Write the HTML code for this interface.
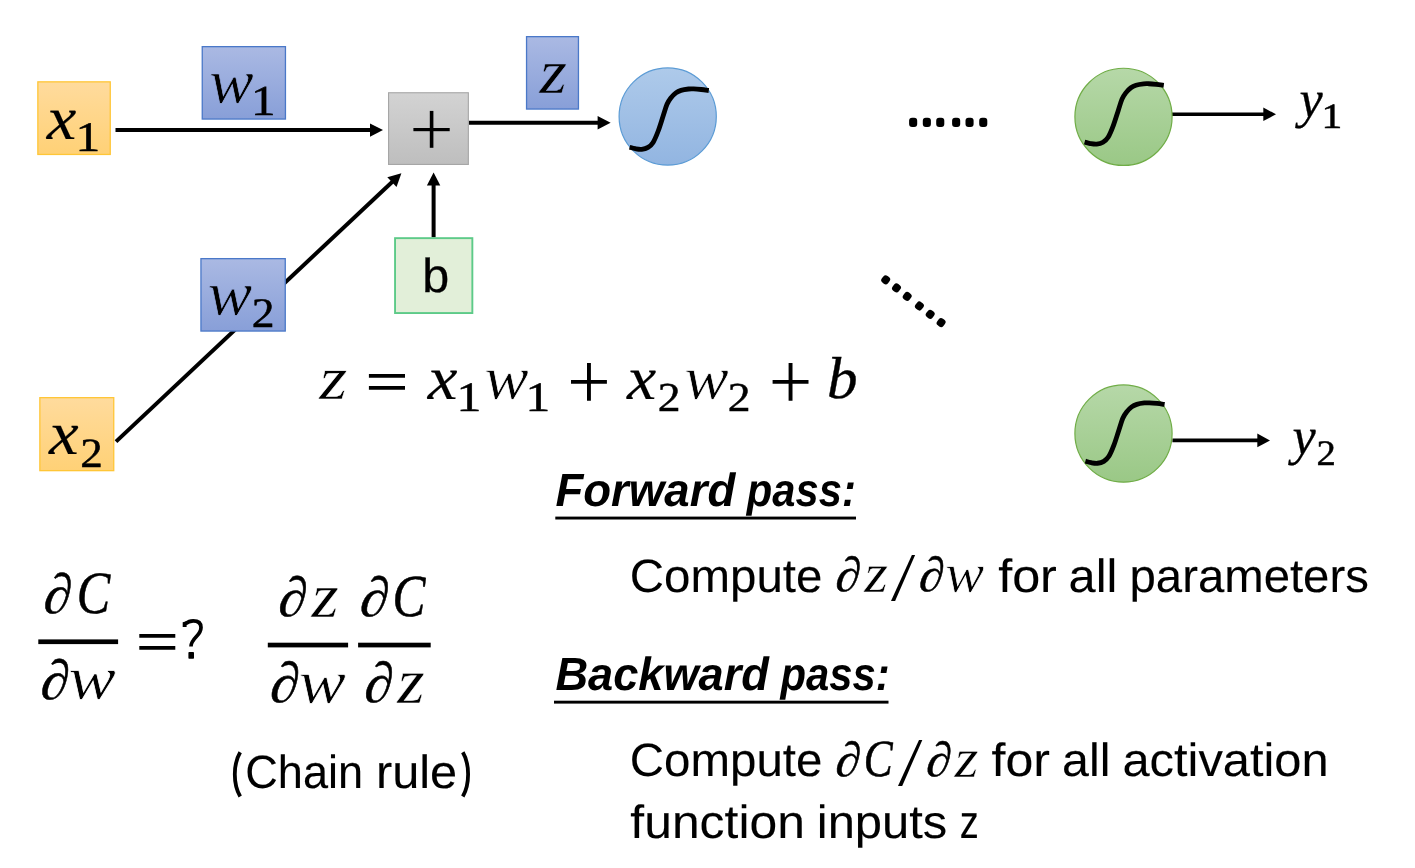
<!DOCTYPE html>
<html><head><meta charset="utf-8"><title>Backpropagation</title>
<style>
html,body{margin:0;padding:0;background:#fff;overflow:hidden}
svg{display:block;will-change:transform}
text{font-kerning:none;text-rendering:geometricPrecision}
</style></head><body>
<svg width="1415" height="868" viewBox="0 0 1415 868">
<rect width="1415" height="868" fill="#fff"/>
<defs>
<linearGradient id="gY" x1="0" y1="0" x2="0" y2="1"><stop offset="0" stop-color="#FFDB9D"/><stop offset="1" stop-color="#FFD176"/></linearGradient>
<linearGradient id="gB" x1="0" y1="0" x2="0" y2="1"><stop offset="0" stop-color="#AAB9E3"/><stop offset="1" stop-color="#889FD8"/></linearGradient>
<linearGradient id="gG" x1="0" y1="0" x2="0" y2="1"><stop offset="0" stop-color="#D3D3D3"/><stop offset="1" stop-color="#BEBEBE"/></linearGradient>
<linearGradient id="gC" x1="0" y1="0" x2="0" y2="1"><stop offset="0" stop-color="#AECAEA"/><stop offset="1" stop-color="#92B5E1"/></linearGradient>
<linearGradient id="gN" x1="0" y1="0" x2="0" y2="1"><stop offset="0" stop-color="#B6D8A8"/><stop offset="1" stop-color="#9AC886"/></linearGradient>
</defs>
<line x1="115.50" y1="130.10" x2="371.00" y2="130.10" stroke="#000" stroke-width="4.0"/>
<polygon points="383.00,130.10 370.00,136.80 370.00,123.40" fill="#000"/>
<line x1="468.90" y1="122.80" x2="598.60" y2="122.80" stroke="#000" stroke-width="4.0"/>
<polygon points="610.60,122.80 597.60,129.50 597.60,116.10" fill="#000"/>
<line x1="116.00" y1="441.60" x2="392.66" y2="181.42" stroke="#000" stroke-width="4.0"/>
<polygon points="401.40,173.20 396.52,186.99 387.34,177.23" fill="#000"/>
<line x1="433.60" y1="237.30" x2="433.60" y2="184.60" stroke="#000" stroke-width="4.0"/>
<polygon points="433.60,172.60 440.30,185.60 426.90,185.60" fill="#000"/>
<line x1="1172.00" y1="114.30" x2="1264.30" y2="114.30" stroke="#000" stroke-width="3.6"/>
<polygon points="1276.00,114.30 1263.30,121.10 1263.30,107.50" fill="#000"/>
<line x1="1172.40" y1="440.40" x2="1258.30" y2="440.40" stroke="#000" stroke-width="3.6"/>
<polygon points="1270.00,440.40 1257.30,447.20 1257.30,433.60" fill="#000"/>
<rect x="37.85" y="81.85" width="72.40" height="72.60" fill="url(#gY)" stroke="#FFC637" stroke-width="1.3"/>
<rect x="39.85" y="397.65" width="73.90" height="73.00" fill="url(#gY)" stroke="#FFC637" stroke-width="1.3"/>
<rect x="202.25" y="46.65" width="83.20" height="72.40" fill="url(#gB)" stroke="#4A78C8" stroke-width="1.3"/>
<rect x="200.95" y="258.65" width="84.30" height="72.40" fill="url(#gB)" stroke="#4A78C8" stroke-width="1.3"/>
<rect x="526.55" y="36.65" width="51.90" height="72.40" fill="url(#gB)" stroke="#4A78C8" stroke-width="1.3"/>
<rect x="388.55" y="92.75" width="79.80" height="71.70" fill="url(#gG)" stroke="#A6A6A6" stroke-width="1.1"/>
<rect x="395.05" y="238.15" width="77.30" height="74.90" fill="#E2EFD9" stroke="#5DCA88" stroke-width="1.9"/>
<rect x="413.4" y="128.0" width="36.3" height="3.2" fill="#000"/>
<rect x="429.8" y="110.9" width="3.6" height="36.9" fill="#000"/>
<circle cx="667.7" cy="116.5" r="48.6" fill="url(#gC)" stroke="#5B9BD5" stroke-width="1.2"/>
<path d="M629.60,147.20 C630.55,147.45 633.28,148.35 635.30,148.70 C637.32,149.05 639.58,149.52 641.70,149.30 C643.82,149.08 646.10,148.55 648.00,147.40 C649.90,146.25 651.40,145.13 653.10,142.40 C654.80,139.67 656.52,135.43 658.20,131.00 C659.88,126.57 661.73,120.25 663.20,115.80 C664.67,111.35 665.73,107.27 667.00,104.30 C668.27,101.33 669.32,99.90 670.80,98.00 C672.28,96.10 674.20,94.17 675.90,92.90 C677.60,91.63 678.88,91.05 681.00,90.40 C683.12,89.75 686.50,89.25 688.60,89.00 C690.70,88.75 691.50,88.82 693.60,88.90 C695.70,88.98 698.67,89.23 701.20,89.50 C703.73,89.77 707.53,90.33 708.80,90.50" fill="none" stroke="#000" stroke-width="4.8"/>
<circle cx="1123.5" cy="116.85" r="48.6" fill="url(#gN)" stroke="#70AD47" stroke-width="1.2"/>
<path d="M1084.60,142.05 C1085.55,142.30 1088.28,143.20 1090.30,143.55 C1092.32,143.90 1094.58,144.37 1096.70,144.15 C1098.82,143.93 1101.10,143.40 1103.00,142.25 C1104.90,141.10 1106.40,139.98 1108.10,137.25 C1109.80,134.52 1111.52,130.28 1113.20,125.85 C1114.88,121.42 1116.73,115.10 1118.20,110.65 C1119.67,106.20 1120.73,102.12 1122.00,99.15 C1123.27,96.18 1124.32,94.75 1125.80,92.85 C1127.28,90.95 1129.20,89.02 1130.90,87.75 C1132.60,86.48 1133.88,85.90 1136.00,85.25 C1138.12,84.60 1141.50,84.10 1143.60,83.85 C1145.70,83.60 1146.50,83.67 1148.60,83.75 C1150.70,83.83 1153.67,84.08 1156.20,84.35 C1158.73,84.62 1162.53,85.18 1163.80,85.35" fill="none" stroke="#000" stroke-width="4.8"/>
<circle cx="1123.5" cy="433.55" r="48.6" fill="url(#gN)" stroke="#70AD47" stroke-width="1.2"/>
<path d="M1085.40,461.15 C1086.35,461.40 1089.08,462.30 1091.10,462.65 C1093.12,463.00 1095.38,463.47 1097.50,463.25 C1099.62,463.03 1101.90,462.50 1103.80,461.35 C1105.70,460.20 1107.20,459.08 1108.90,456.35 C1110.60,453.62 1112.32,449.38 1114.00,444.95 C1115.68,440.52 1117.53,434.20 1119.00,429.75 C1120.47,425.30 1121.53,421.22 1122.80,418.25 C1124.07,415.28 1125.12,413.85 1126.60,411.95 C1128.08,410.05 1130.00,408.12 1131.70,406.85 C1133.40,405.58 1134.68,405.00 1136.80,404.35 C1138.92,403.70 1142.30,403.20 1144.40,402.95 C1146.50,402.70 1147.30,402.77 1149.40,402.85 C1151.50,402.93 1154.47,403.18 1157.00,403.45 C1159.53,403.72 1163.33,404.28 1164.60,404.45" fill="none" stroke="#000" stroke-width="4.8"/>
<rect x="909.1" y="117.8" width="8.1" height="9.1" rx="3" fill="#000"/>
<rect x="922.8" y="117.8" width="8.1" height="9.1" rx="3" fill="#000"/>
<rect x="936.2" y="117.8" width="8.1" height="9.1" rx="3" fill="#000"/>
<rect x="952.1" y="117.8" width="8.1" height="9.1" rx="3" fill="#000"/>
<rect x="965.5" y="117.8" width="8.1" height="9.1" rx="3" fill="#000"/>
<rect x="979.2" y="117.8" width="8.1" height="9.1" rx="3" fill="#000"/>
<rect x="881.8" y="275.6" width="7.8" height="8.4" rx="3" fill="#000" transform="rotate(38 885.7 279.8)"/>
<rect x="892.6" y="283.7" width="7.8" height="8.4" rx="3" fill="#000" transform="rotate(38 896.5 287.9)"/>
<rect x="903.3" y="292.2" width="7.8" height="8.4" rx="3" fill="#000" transform="rotate(38 907.2 296.4)"/>
<rect x="915.5" y="301.8" width="7.8" height="8.4" rx="3" fill="#000" transform="rotate(38 919.4 306.0)"/>
<rect x="926.3" y="310.1" width="7.8" height="8.4" rx="3" fill="#000" transform="rotate(38 930.2 314.3)"/>
<rect x="937.2" y="318.4" width="7.8" height="8.4" rx="3" fill="#000" transform="rotate(38 941.1 322.6)"/>
<text transform="matrix(0.66521 0 -0.00000 0.61331 46.79 138.93)" font-family='"Liberation Serif", serif' font-style="italic" font-weight="normal" font-size="100" stroke="#000" stroke-width="0.235">x</text>
<text transform="matrix(0.49425 0 -0.00000 0.41960 75.46 150.80)" font-family='"Liberation Serif", serif' font-style="normal" font-weight="normal" font-size="100" stroke="#000" stroke-width="1.318">1</text>
<text transform="matrix(0.66744 0 -0.00000 0.61113 48.99 454.32)" font-family='"Liberation Serif", serif' font-style="italic" font-weight="normal" font-size="100" stroke="#000" stroke-width="0.235">x</text>
<text transform="matrix(0.45151 0 -0.00000 0.41685 80.17 466.65)" font-family='"Liberation Serif", serif' font-style="normal" font-weight="normal" font-size="100" stroke="#000" stroke-width="1.153">2</text>
<text transform="matrix(0.66536 0 -0.00000 0.63147 209.26 102.93)" font-family='"Liberation Serif", serif' font-style="italic" font-weight="normal" font-size="100" stroke="#96AADD" stroke-width="1.080">w</text>
<text transform="matrix(0.49141 0 -0.00000 0.42566 250.98 114.90)" font-family='"Liberation Serif", serif' font-style="normal" font-weight="normal" font-size="100" stroke="#000" stroke-width="1.312">1</text>
<text transform="matrix(0.66536 0 -0.00000 0.63147 207.76 314.93)" font-family='"Liberation Serif", serif' font-style="italic" font-weight="normal" font-size="100" stroke="#96AADD" stroke-width="1.080">w</text>
<text transform="matrix(0.45650 0 -0.00000 0.42138 251.84 326.95)" font-family='"Liberation Serif", serif' font-style="normal" font-weight="normal" font-size="100" stroke="#000" stroke-width="1.140">2</text>
<text transform="matrix(0.70763 0 -0.00000 0.62965 539.54 93.15)" font-family='"Liberation Serif", serif' font-style="italic" font-weight="normal" font-size="100" stroke="#96AADD" stroke-width="0.749">z</text>
<text transform="matrix(0.52289 0 -0.00000 0.53052 1299.62 117.30)" font-family='"Liberation Serif", serif' font-style="italic" font-weight="normal" font-size="100" stroke="#000" stroke-width="0.570">y</text>
<text transform="matrix(0.41471 0 -0.00000 0.35446 1321.56 127.50)" font-family='"Liberation Serif", serif' font-style="normal" font-weight="normal" font-size="100" stroke="#000" stroke-width="1.565">1</text>
<text transform="matrix(0.52289 0 -0.00000 0.53052 1292.52 454.30)" font-family='"Liberation Serif", serif' font-style="italic" font-weight="normal" font-size="100" stroke="#000" stroke-width="0.570">y</text>
<text transform="matrix(0.38665 0 -0.00000 0.35795 1316.55 464.85)" font-family='"Liberation Serif", serif' font-style="normal" font-weight="normal" font-size="100" stroke="#000" stroke-width="1.344">2</text>
<text transform="matrix(0.72054 0 -0.00000 0.61658 319.26 399.05)" font-family='"Liberation Serif", serif' font-style="italic" font-weight="normal" font-size="100" stroke="#fff" stroke-width="0.750">z</text>
<path d="M368.9,374h36.1v3.8h-36.1zM368.9,386.1h36.1v3.7h-36.1z"/>
<text transform="matrix(0.66967 0 -0.00000 0.61985 427.79 399.12)" font-family='"Liberation Serif", serif' font-style="italic" font-weight="normal" font-size="100" stroke="#000" stroke-width="0.233">x</text>
<text transform="matrix(0.49709 0 -0.00000 0.41505 456.53 410.70)" font-family='"Liberation Serif", serif' font-style="normal" font-weight="normal" font-size="100" stroke="#000" stroke-width="1.321">1</text>
<text transform="matrix(0.66379 0 -0.00000 0.62507 484.16 398.94)" font-family='"Liberation Serif", serif' font-style="italic" font-weight="normal" font-size="100" stroke="#fff" stroke-width="1.087">w</text>
<text transform="matrix(0.49425 0 -0.00000 0.41505 525.56 410.70)" font-family='"Liberation Serif", serif' font-style="normal" font-weight="normal" font-size="100" stroke="#000" stroke-width="1.325">1</text>
<path d="M571,380.1h35.9v3.7h-35.9zM587,363.1h3.9v37.7h-3.9z"/>
<text transform="matrix(0.65852 0 -0.00000 0.61985 626.98 399.12)" font-family='"Liberation Serif", serif' font-style="italic" font-weight="normal" font-size="100" stroke="#000" stroke-width="0.235">x</text>
<text transform="matrix(0.45650 0 -0.00000 0.41081 657.64 410.55)" font-family='"Liberation Serif", serif' font-style="normal" font-weight="normal" font-size="100" stroke="#000" stroke-width="1.155">2</text>
<text transform="matrix(0.66536 0 -0.00000 0.62507 684.16 398.94)" font-family='"Liberation Serif", serif' font-style="italic" font-weight="normal" font-size="100" stroke="#fff" stroke-width="1.085">w</text>
<text transform="matrix(0.45650 0 -0.00000 0.41081 727.74 410.55)" font-family='"Liberation Serif", serif' font-style="normal" font-weight="normal" font-size="100" stroke="#000" stroke-width="1.155">2</text>
<path d="M772.6,380.1h35.9v3.7h-35.9zM788.6,363.1h3.9v37.7h-3.9z"/>
<text transform="matrix(0.61024 0 -0.00000 0.59123 826.94 398.12)" font-family='"Liberation Serif", serif' font-style="italic" font-weight="normal" font-size="100" stroke="#000" stroke-width="0.666">b</text>
<text transform="matrix(0.54533 0 -0.06696 0.56238 42.62 612.51)" font-family='"Liberation Serif", serif' font-style="normal" font-weight="normal" font-size="100" stroke="#000" stroke-width="0.903">∂</text>
<text transform="matrix(0.50112 0 -0.00000 0.60174 76.66 613.09)" font-family='"Liberation Serif", serif' font-style="italic" font-weight="normal" font-size="100" stroke="#000" stroke-width="0.911">C</text>
<rect x="38.3" y="639.4" width="79.8" height="4.7" fill="#000"/>
<text transform="matrix(0.55363 0 -0.06798 0.55830 39.58 698.91)" font-family='"Liberation Serif", serif' font-style="normal" font-weight="normal" font-size="100" stroke="#000" stroke-width="0.899">∂</text>
<text transform="matrix(0.70941 0 -0.00000 0.61653 68.55 699.35)" font-family='"Liberation Serif", serif' font-style="italic" font-weight="normal" font-size="100" stroke="#fff" stroke-width="1.058">w</text>
<path d="M139.3,634h36v3.8h-36zM139.3,646.1h36v3.6h-36z"/>
<path d="M185.3,623.8C188,621.6 190.5,620.8 193.2,620.8C198.3,620.8 201.0,623.3 201.0,627.4C201.0,631.5 198.6,634.3 196.2,636.8C193.3,639.8 191.0,642.2 191.0,646.6" fill="none" stroke="#000" stroke-width="3.7"/><path d="M182.7,622.3L186.6,621.2L186.6,627.0L182.7,627.0Z"/><rect x="188.4" y="651.9" width="5.6" height="6.8" rx="0.8"/>
<text transform="matrix(0.55570 0 -0.06823 0.55694 277.17 615.82)" font-family='"Liberation Serif", serif' font-style="normal" font-weight="normal" font-size="100" stroke="#000" stroke-width="0.899">∂</text>
<text transform="matrix(0.70247 0 -0.00000 0.63183 311.54 617.05)" font-family='"Liberation Serif", serif' font-style="italic" font-weight="normal" font-size="100" stroke="#fff" stroke-width="0.751">z</text>
<rect x="267.8" y="642.7" width="80.3" height="4.7" fill="#000"/>
<text transform="matrix(0.56400 0 -0.06925 0.56919 269.04 702.20)" font-family='"Liberation Serif", serif' font-style="normal" font-weight="normal" font-size="100" stroke="#000" stroke-width="0.882">∂</text>
<text transform="matrix(0.70941 0 -0.00000 0.62507 298.55 702.54)" font-family='"Liberation Serif", serif' font-style="italic" font-weight="normal" font-size="100" stroke="#fff" stroke-width="1.051">w</text>
<text transform="matrix(0.56400 0 -0.06925 0.55694 358.84 615.82)" font-family='"Liberation Serif", serif' font-style="normal" font-weight="normal" font-size="100" stroke="#000" stroke-width="0.892">∂</text>
<text transform="matrix(0.49307 0 -0.00000 0.59578 392.61 616.40)" font-family='"Liberation Serif", serif' font-style="italic" font-weight="normal" font-size="100" stroke="#000" stroke-width="0.923">C</text>
<rect x="358.1" y="642.7" width="72.6" height="4.7" fill="#000"/>
<text transform="matrix(0.55570 0 -0.06823 0.56919 363.27 702.20)" font-family='"Liberation Serif", serif' font-style="normal" font-weight="normal" font-size="100" stroke="#000" stroke-width="0.889">∂</text>
<text transform="matrix(0.71021 0 -0.00000 0.64708 397.35 703.25)" font-family='"Liberation Serif", serif' font-style="italic" font-weight="normal" font-size="100" stroke="#fff" stroke-width="0.738">z</text>
<text transform="matrix(0.48728 0 -0.05983 0.48477 834.56 591.01)" font-family='"Liberation Serif", serif' font-style="normal" font-weight="normal" font-size="100" stroke="#000" stroke-width="1.029">∂</text>
<text transform="matrix(0.61208 0 -0.00000 0.56211 864.14 592.15)" font-family='"Liberation Serif", serif' font-style="italic" font-weight="normal" font-size="100" stroke="#fff" stroke-width="0.852">z</text>
<path d="M911.9,554.9H915.1L895.1,600.9H891.0Z"/>
<text transform="matrix(0.48728 0 -0.05983 0.48477 918.06 591.01)" font-family='"Liberation Serif", serif' font-style="normal" font-weight="normal" font-size="100" stroke="#000" stroke-width="1.029">∂</text>
<text transform="matrix(0.58357 0 -0.00000 0.55467 945.15 591.71)" font-family='"Liberation Serif", serif' font-style="italic" font-weight="normal" font-size="100" stroke="#fff" stroke-width="1.230">w</text>
<text transform="matrix(0.48728 0 -0.05983 0.48477 834.56 776.01)" font-family='"Liberation Serif", serif' font-style="normal" font-weight="normal" font-size="100" stroke="#000" stroke-width="1.029">∂</text>
<text transform="matrix(0.43345 0 -0.00000 0.52131 863.64 776.17)" font-family='"Liberation Serif", serif' font-style="italic" font-weight="normal" font-size="100" stroke="#000" stroke-width="1.052">C</text>
<path d="M919.0,739.9H922.3L902.2,785.9H898.0Z"/>
<text transform="matrix(0.48728 0 -0.05983 0.48477 925.26 776.01)" font-family='"Liberation Serif", serif' font-style="normal" font-weight="normal" font-size="100" stroke="#000" stroke-width="1.029">∂</text>
<text transform="matrix(0.61982 0 -0.00000 0.56211 954.55 777.15)" font-family='"Liberation Serif", serif' font-style="italic" font-weight="normal" font-size="100" stroke="#fff" stroke-width="0.847">z</text>
<text transform="matrix(0.48476 0 -0.00000 0.47660 422.23 292.38)" font-family='"Liberation Sans", sans-serif' font-style="normal" font-weight="normal" font-size="100" stroke="#000" stroke-width="0.624">b</text>
<text transform="matrix(0.45584 0 -0.00000 0.46512 555.40 505.80)" font-family='"Liberation Sans", sans-serif' font-style="italic" font-weight="bold" font-size="100" xml:space="preserve">Forward</text>
<text transform="matrix(0.41726 0 -0.00000 0.46512 746.82 505.80)" font-family='"Liberation Sans", sans-serif' font-style="italic" font-weight="bold" font-size="100" xml:space="preserve">pass:</text>
<rect x="555.3" y="516.6" width="300.7" height="2.9" fill="#000"/>
<text transform="matrix(0.45172 0 -0.00000 0.46512 555.41 690.10)" font-family='"Liberation Sans", sans-serif' font-style="italic" font-weight="bold" font-size="100" xml:space="preserve">Backward</text>
<text transform="matrix(0.41843 0 -0.00000 0.46512 780.42 690.10)" font-family='"Liberation Sans", sans-serif' font-style="italic" font-weight="bold" font-size="100" xml:space="preserve">pass:</text>
<rect x="554.0" y="700.7" width="334.5" height="2.9" fill="#000"/>
<text transform="matrix(0.47471 0 -0.00000 0.46658 629.84 591.85)" font-family='"Liberation Sans", sans-serif' font-style="normal" font-weight="normal" font-size="100" xml:space="preserve" stroke="#000" stroke-width="0.212">Compute</text>
<text transform="matrix(0.50342 0 -0.00000 0.46658 998.14 591.95)" font-family='"Liberation Sans", sans-serif' font-style="normal" font-weight="normal" font-size="100" xml:space="preserve" stroke="#000" stroke-width="0.206">for</text>
<text transform="matrix(0.48703 0 -0.00000 0.46658 1068.58 591.95)" font-family='"Liberation Sans", sans-serif' font-style="normal" font-weight="normal" font-size="100" xml:space="preserve" stroke="#000" stroke-width="0.210">all</text>
<text transform="matrix(0.47327 0 -0.00000 0.46658 1129.50 591.95)" font-family='"Liberation Sans", sans-serif' font-style="normal" font-weight="normal" font-size="100" xml:space="preserve" stroke="#000" stroke-width="0.213">parameters</text>
<text transform="matrix(0.47471 0 -0.00000 0.46658 629.84 776.15)" font-family='"Liberation Sans", sans-serif' font-style="normal" font-weight="normal" font-size="100" xml:space="preserve" stroke="#000" stroke-width="0.212">Compute</text>
<text transform="matrix(0.50078 0 -0.00000 0.46658 991.54 776.15)" font-family='"Liberation Sans", sans-serif' font-style="normal" font-weight="normal" font-size="100" xml:space="preserve" stroke="#000" stroke-width="0.207">for</text>
<text transform="matrix(0.48366 0 -0.00000 0.46658 1062.00 776.15)" font-family='"Liberation Sans", sans-serif' font-style="normal" font-weight="normal" font-size="100" xml:space="preserve" stroke="#000" stroke-width="0.211">all</text>
<text transform="matrix(0.48795 0 -0.00000 0.46658 1122.48 776.15)" font-family='"Liberation Sans", sans-serif' font-style="normal" font-weight="normal" font-size="100" xml:space="preserve" stroke="#000" stroke-width="0.210">activation</text>
<text transform="matrix(0.49834 0 -0.00000 0.46658 630.34 837.95)" font-family='"Liberation Sans", sans-serif' font-style="normal" font-weight="normal" font-size="100" xml:space="preserve" stroke="#000" stroke-width="0.207">function</text>
<text transform="matrix(0.48920 0 -0.00000 0.46658 816.78 837.95)" font-family='"Liberation Sans", sans-serif' font-style="normal" font-weight="normal" font-size="100" xml:space="preserve" stroke="#000" stroke-width="0.209">inputs</text>
<text transform="matrix(0.38080 0 -0.00000 0.46658 959.81 837.95)" font-family='"Liberation Sans", sans-serif' font-style="normal" font-weight="normal" font-size="100" xml:space="preserve" stroke="#000" stroke-width="0.237">z</text>
<path d="M240.2,752.3C235.9,759.5 234.8,767.0 234.8,774.3C234.8,781.6 235.9,789.2 240.2,796.5" fill="none" stroke="#000" stroke-width="3.8"/>
<text transform="matrix(0.45093 0 -0.00000 0.46658 245.26 787.65)" font-family='"Liberation Sans", sans-serif' font-style="normal" font-weight="normal" font-size="100" xml:space="preserve" stroke="#000" stroke-width="0.218">Chain</text>
<text transform="matrix(0.48759 0 -0.00000 0.46658 375.91 787.65)" font-family='"Liberation Sans", sans-serif' font-style="normal" font-weight="normal" font-size="100" xml:space="preserve" stroke="#000" stroke-width="0.210">rule</text>
<path d="M462.8,752.3C467.1,759.5 468.1,767.0 468.1,774.3C468.1,781.6 467.1,789.2 462.8,796.5" fill="none" stroke="#000" stroke-width="3.8"/>
</svg>
</body></html>
